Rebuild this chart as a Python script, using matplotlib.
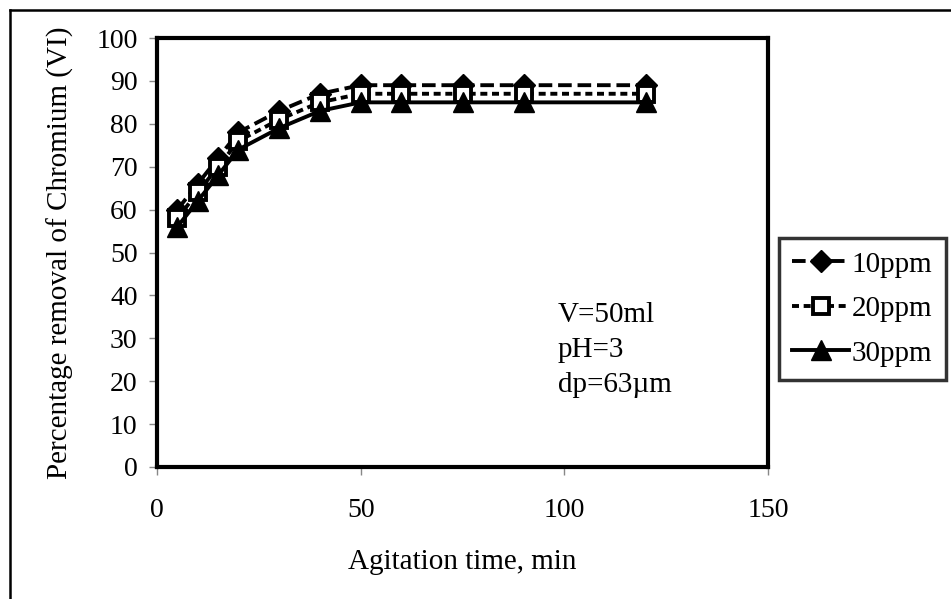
import matplotlib
matplotlib.use('Agg')
import matplotlib.pyplot as plt
from matplotlib.lines import Line2D

plt.rcParams['font.family'] = ['Liberation Serif', 'DejaVu Serif']

# agitation time, min
time_min = [5, 10, 15, 20, 30, 40, 50, 60, 75, 90, 120]
# percentage removal of Cr(VI)
removal_10ppm = [60, 66, 72, 78, 83, 87, 89, 89, 89, 89, 89]
removal_20ppm = [58, 64, 70, 76, 81, 85, 87, 87, 87, 87, 87]
removal_30ppm = [56, 62, 68, 74, 79, 83, 85, 85, 85, 85, 85]
series_labels = ['10ppm', '20ppm', '30ppm']
x_ticks = [0, 50, 100, 150]
y_ticks = list(range(0, 101, 10))

fig = plt.figure(figsize=(9.51, 5.99), dpi=100)
W, H = 951, 599

# outer chart-area frame (only top and left visible in the crop)
fig.add_artist(Line2D([10 / W, 10 / W], [0, 1 - 10 / H], color='black', lw=1.8,
                      transform=fig.transFigure))
fig.add_artist(Line2D([10 / W, 1], [1 - 10 / H, 1 - 10 / H], color='black', lw=1.8,
                      transform=fig.transFigure))

ax = fig.add_axes([157 / W, 1 - 467 / H, (768 - 157) / W, (467 - 38) / H])

ax.plot(time_min, removal_10ppm, color='black', lw=2.8, ls=(0, (3.5, 1.5)),
        marker='D', ms=11, mfc='black', mec='black', label=series_labels[0])
ax.plot(time_min, removal_20ppm, color='black', lw=2.8, ls=(0, (1.8, 1.2)),
        marker='s', ms=11, mfc='white', mec='black', mew=2.8, label=series_labels[1])
ax.plot(time_min, removal_30ppm, color='black', lw=2.8, ls='-',
        marker='^', ms=14, mfc='black', mec='black', label=series_labels[2])

ax.set_xlim(0, 150)
ax.set_ylim(0, 100)
ax.set_xticks(x_ticks)
ax.set_yticks(y_ticks)
ax.tick_params(axis='both', direction='out', length=6, width=1, color='#888888',
               labelsize=20, pad=8)
ax.tick_params(axis='x', pad=16)
for sp in ax.spines.values():
    sp.set_linewidth(3)

ax.set_xlabel('Agitation time, min', fontsize=21, labelpad=19)
ax.set_ylabel('Percentage removal of Chromium (VI)', fontsize=21, labelpad=16)

ax.text(0.656, 0.272, 'V=50ml\npH=3\ndp=63\u00b5m', transform=ax.transAxes,
        fontsize=21, va='center', ha='left', linespacing=1.45)

leg = fig.legend(loc='upper left', bbox_to_anchor=(779 / W, 1 - 238 / H),
                 fontsize=21, frameon=True, fancybox=False, edgecolor='black',
                 handlelength=1.95, handletextpad=0.1, borderpad=0.45,
                 labelspacing=0.62, borderaxespad=0)
leg.get_frame().set_linewidth(2.5)

fig.savefig('out.png', dpi=100)
